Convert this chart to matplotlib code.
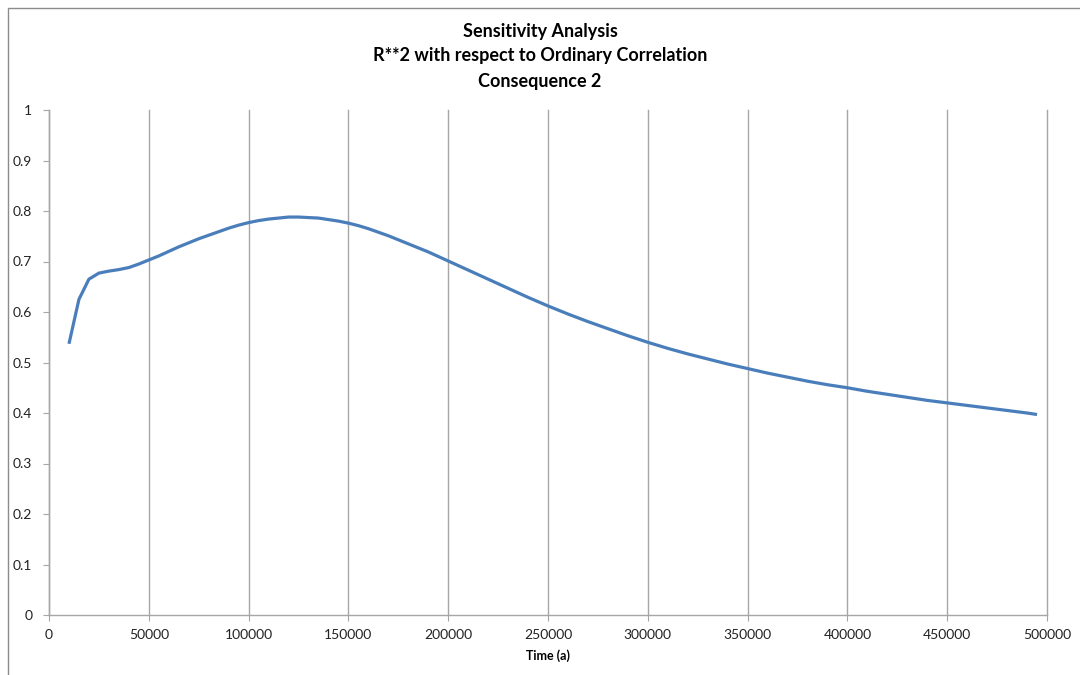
import matplotlib
matplotlib.use("Agg")
import matplotlib.pyplot as plt
from matplotlib.patches import Rectangle

time_a = [10000, 15000, 20000, 25000, 30000, 35000, 40000, 45000, 50000, 55000, 60000,
          65000, 70000, 75000, 80000, 85000, 90000, 95000, 100000, 105000, 110000,
          115000, 120000, 125000, 130000, 135000, 140000, 145000, 150000, 155000, 160000,
          165000, 170000, 175000, 180000, 185000, 190000, 195000, 200000,
          210000, 220000, 230000, 240000, 250000, 260000, 270000, 280000, 290000,
          300000, 310000, 320000, 330000, 340000, 350000, 360000, 370000, 380000, 390000,
          400000, 410000, 420000, 430000, 440000, 450000, 460000, 470000, 480000, 490000, 495000]
r2 = [0.537, 0.625, 0.665, 0.677, 0.681, 0.684, 0.688, 0.695, 0.703, 0.711, 0.720,
      0.729, 0.737, 0.745, 0.752, 0.759, 0.766, 0.772, 0.777, 0.781, 0.784,
      0.786, 0.788, 0.788, 0.787, 0.786, 0.783, 0.780, 0.776, 0.771, 0.765,
      0.758, 0.751, 0.743, 0.735, 0.727, 0.719, 0.710, 0.701,
      0.683, 0.665, 0.647, 0.629, 0.612, 0.596, 0.581, 0.567, 0.553,
      0.540, 0.528, 0.517, 0.507, 0.497, 0.488, 0.479, 0.471, 0.463, 0.456,
      0.450, 0.443, 0.437, 0.431, 0.425, 0.420, 0.415, 0.410, 0.405, 0.400, 0.397]

x_ticks = [0, 50000, 100000, 150000, 200000, 250000, 300000, 350000, 400000, 450000, 500000]
y_ticks = [0, 0.1, 0.2, 0.3, 0.4, 0.5, 0.6, 0.7, 0.8, 0.9, 1]
y_labels = ["0", "0.1", "0.2", "0.3", "0.4", "0.5", "0.6", "0.7", "0.8", "0.9", "1"]

plt.rcParams['font.family'] = ['Lato', 'DejaVu Sans']

fig = plt.figure(figsize=(10.8, 6.75), dpi=100)
fig.patches.append(Rectangle((8/1080, -0.01), 1.1, 1 - 8/675 + 0.01, transform=fig.transFigure,
                             fill=False, edgecolor='#8c8c8c', linewidth=1.0))

ax = fig.add_axes([49/1080, 1 - 615/675, 998/1080, 505/675])
ax.plot(time_a, r2, color='#4A7EBB', linewidth=2.3, solid_capstyle='butt', solid_joinstyle='round')
ax.set_xlim(0, 500000)
ax.set_ylim(0, 1)
ax.set_xticks(x_ticks)
ax.set_xticklabels([str(v) for v in x_ticks])
ax.set_yticks(y_ticks)
ax.set_yticklabels(y_labels)
ax.grid(axis='x', color='#a6a6a6', linewidth=1.0)
for gl in ax.get_xgridlines():
    gl.set_clip_on(False)
ax.set_axisbelow(True)
for s in ['top', 'right']:
    ax.spines[s].set_visible(False)
for s in ['left', 'bottom']:
    ax.spines[s].set_color('#a6a6a6')
    ax.spines[s].set_linewidth(1.0)
ax.tick_params(axis='both', colors='#a6a6a6', labelcolor='#222222', labelsize=10, length=4, direction='out')
ax.tick_params(axis='x', pad=6)
ax.tick_params(axis='y', pad=8)
ax.set_xlabel('Time (a)', fontsize=9, fontweight='bold', labelpad=6)

fig.text(0.5, 1 - 32/675, 'Sensitivity Analysis', ha='center', va='center', fontsize=13, fontweight='bold')
fig.text(0.5, 1 - 56/675, 'R**2 with respect to Ordinary Correlation', ha='center', va='center', fontsize=13, fontweight='bold')
fig.text(0.5, 1 - 81/675, 'Consequence 2', ha='center', va='center', fontsize=13, fontweight='bold')

fig.savefig('out.png', dpi=100)
